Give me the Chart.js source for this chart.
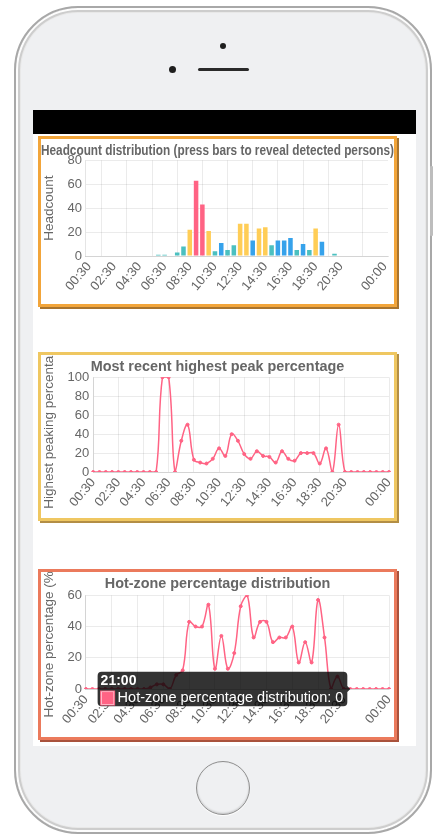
<!DOCTYPE html>
<html>
<head>
<meta charset="utf-8">
<title>Occupancy dashboard</title>
<script src="https://cdn.jsdelivr.net/npm/chart.js@4.4.1/dist/chart.umd.min.js"></script>
<style>
  body { margin: 0; width: 436px; height: 838px; background: #fff; position: relative; overflow: hidden; }
  .abs { position: absolute; }
  .phone { left: 14px; top: 6px; width: 418px; height: 828px; box-sizing: border-box; border-radius: 64px;
           background: #eff0f2; border: 2px solid #a8a8a8;
           box-shadow: inset 0 0 0 2px #fdfdfd, inset 0 0 0 4px #cdcdcd, inset 0 0 0 5px #e8e8e8; }
  .side-btn { left: 430px; top: 166px; width: 3px; height: 70px; background: #bdbdbd; border-radius: 1px; }
  .cam { left: 220px; top: 43px; width: 6px; height: 6px; border-radius: 50%; background: #1e1e1e; }
  .sensor { left: 169px; top: 66px; width: 7px; height: 7px; border-radius: 50%; background: #1e1e1e; }
  .speaker { left: 198px; top: 68px; width: 51px; height: 3px; border-radius: 2px; background: #2a2a2a; }
  .screen { left: 33px; top: 110px; width: 383px; height: 636px; background: #fff; }
  .topbar { left: 33px; top: 110px; width: 383px; height: 24px; background: #000; }
  .box { left: 38px; width: 359px; box-sizing: border-box; border: 3px solid; background: #fff; }
  .box .wrap { position: relative; width: 353px; }
  #box1 { top: 136px; height: 171px; border-color: #f2a53a; box-shadow: 2px 2px 0 #a8742e; }
  #box2 { top: 352px; height: 169px; border-color: #efc761; box-shadow: 2px 2px 0 #b38e45; }
  #box3 { top: 569px; height: 171px; border-color: #eb7a5c; box-shadow: 2px 2px 0 #a9523c; }
  #box1 .wrap, #box3 .wrap { height: 165px; }
  #box2 .wrap { height: 163px; }
  .home { left: 196px; top: 761px; width: 54px; height: 54px; border-radius: 50%; box-sizing: border-box;
          border: 1.5px solid #8e8e8e; box-shadow: inset 0 -1px 2px rgba(0,0,0,0.18), 0 1px 1px #fff; }
</style>
</head>
<body>
<div class="abs phone"></div>
<div class="abs side-btn"></div>
<div class="abs cam"></div>
<div class="abs sensor"></div>
<div class="abs speaker"></div>
<div class="abs screen"></div>
<div class="abs topbar"></div>
<div class="abs box" id="box1"><div class="wrap"><canvas id="headcountChart"></canvas></div></div>
<div class="abs box" id="box2"><div class="wrap"><canvas id="peakChart"></canvas></div></div>
<div class="abs box" id="box3"><div class="wrap"><canvas id="hotzoneChart"></canvas></div></div>
<div class="abs home"></div>

<script>
const timeLabels = ['00:30', '01:00', '01:30', '02:00', '02:30', '03:00', '03:30', '04:00',
    '04:30', '05:00', '05:30', '06:00', '06:30', '07:00', '07:30', '08:00',
    '08:30', '09:00', '09:30', '10:00', '10:30', '11:00', '11:30', '12:00',
    '12:30', '13:00', '13:30', '14:00', '14:30', '15:00', '15:30', '16:00',
    '16:30', '17:00', '17:30', '18:00', '18:30', '19:00', '19:30', '20:00',
    '20:30', '21:00', '21:30', '22:00', '22:30', '23:00', '23:30', '00:00'];

const headcount = [0, 0, 0, 0, 0, 0, 0, 0,
    0, 0, 0, 1, 1, 0, 3, 8,
    22, 63, 43, 21, 4, 11, 5, 9,
    27, 27, 13, 23, 24, 9, 13, 13,
    15, 5, 10, 5, 23, 12, 0, 2,
    0, 0, 0, 0, 0, 0, 0, 0];

const peakPercent = [0, 0, 0, 0, 0, 0, 0, 0,
    0, 0, 0, 100, 100, 0, 33, 50,
    13, 10, 9, 14, 25, 17, 40, 33,
    19, 14, 22, 17, 16, 10, 22, 14,
    12, 20, 20, 20, 9, 25, 0, 50,
    0, 0, 0, 0, 0, 0, 0, 0];

const hotzonePercent = [0, 0, 0, 0, 0, 0, 0, 0,
    0, 0, 1, 3, 3, 0, 9, 12,
    43, 40, 40, 54, 13, 34, 13, 23,
    53, 60, 33, 43, 43, 30, 33, 33,
    40, 17, 30, 17, 57, 33, 0, 8,
    0, 0, 0, 0, 0, 0, 0, 0];

const headcountTicks = [0, 20, 40, 60, 80];
const peakTicks = [0, 20, 40, 60, 80, 100];
const hotzoneTicks = [0, 20, 40, 60];

const pink = 'rgb(255, 99, 132)';
const gridColor = 'rgba(0, 0, 0, 0.08)';

Chart.defaults.font.family = "'Liberation Sans', Arial, Helvetica, sans-serif";
Chart.defaults.color = '#666';

function barColor(v) {
    if (v >= 40) return 'rgb(255, 99, 132)';
    if (v >= 20) return 'rgb(255, 205, 86)';
    if (v >= 10) return 'rgb(54, 162, 235)';
    return 'rgb(75, 192, 192)';
}

// every 4th label, the one before the end is dropped, the last is kept
function timeTick(value, index) {
    if (index === timeLabels.length - 1) return timeLabels[index];
    if (index % 4 === 0 && index + 4 < timeLabels.length) return timeLabels[index];
    return null;
}

// y axis title drawn by hand so it can run off the canvas like the original
const yTitle = {
    id: 'yTitle',
    afterDraw(chart, args, opts) {
        const s = chart.scales.y;
        const ctx = chart.ctx;
        ctx.save();
        ctx.translate(opts.x, (s.top + s.bottom) / 2);
        ctx.rotate(-Math.PI / 2);
        ctx.font = "13.5px 'Liberation Sans', Arial, sans-serif";
        ctx.fillStyle = '#666';
        ctx.textAlign = 'center';
        ctx.textBaseline = 'middle';
        ctx.fillText(opts.text, 0, 0);
        ctx.restore();
    }
};

// right gap kept on the x scale so the title still gets the full width
function xAxis(rightGap) {
    return {
        grid: { color: gridColor, drawTicks: false },
        ticks: { autoSkip: false, minRotation: 50, maxRotation: 50, padding: 3, font: { size: 13 }, callback: timeTick },
        afterFit: s => { s.paddingRight = rightGap; }
    };
}

function yAxis(tickValues) {
    return {
        min: tickValues[0],
        max: tickValues[tickValues.length - 1],
        grid: { color: gridColor, drawTicks: false },
        ticks: { autoSkip: false, stepSize: tickValues[1] - tickValues[0], padding: 4, font: { size: 13 } },
        afterFit: s => { s.width += 22.5; }
    };
}

function titleOpts(text, bottom) {
    return { display: true, text: text, color: '#666', font: { size: 14.4, weight: 'bold' }, padding: { top: 3, bottom: bottom } };
}

const headcountChart = new Chart(document.getElementById('headcountChart'), {
    type: 'bar',
    data: {
        labels: timeLabels,
        datasets: [{
            label: 'Headcount',
            data: headcount,
            backgroundColor: c => barColor(c.raw),
            borderWidth: 0
        }]
    },
    options: {
        responsive: true,
        maintainAspectRatio: false,
        animation: false,
        layout: { padding: { right: 0, bottom: 7 } },
        plugins: {
            legend: { display: false },
            title: titleOpts('Headcount distribution (press bars to reveal detected persons)', 1),
            yTitle: { text: 'Headcount', x: 8.5 }
        },
        scales: { x: xAxis(6), y: yAxis(headcountTicks) }
    },
    plugins: [yTitle]
});

function lineDataset(label, values) {
    return {
        label: label,
        data: values,
        borderColor: pink,
        backgroundColor: pink,
        borderWidth: 1.5,
        pointRadius: 1.5,
        pointBorderWidth: 1,
        pointBackgroundColor: pink,
        pointBorderColor: pink,
        tension: 0.4,
        fill: false
    };
}

const peakChart = new Chart(document.getElementById('peakChart'), {
    type: 'line',
    data: { labels: timeLabels, datasets: [lineDataset('Most recent highest peak percentage', peakPercent)] },
    options: {
        responsive: true,
        maintainAspectRatio: false,
        animation: false,
        layout: { padding: { right: 0, bottom: 5 } },
        plugins: {
            legend: { display: false },
            title: titleOpts('Most recent highest peak percentage', 2),
            yTitle: { text: 'Highest peaking percentage', x: 8.5 }
        },
        scales: { x: xAxis(5), y: yAxis(peakTicks) }
    },
    plugins: [yTitle]
});

const hotzoneChart = new Chart(document.getElementById('hotzoneChart'), {
    type: 'line',
    data: { labels: timeLabels, datasets: [lineDataset('Hot-zone percentage distribution', hotzonePercent)] },
    options: {
        responsive: true,
        maintainAspectRatio: false,
        animation: false,
        layout: { padding: { right: 0, bottom: 7 } },
        plugins: {
            legend: { display: false },
            title: titleOpts('Hot-zone percentage distribution', 3),
            yTitle: { text: 'Hot-zone percentage (%)', x: 8.5 },
            tooltip: {
                xAlign: 'right',
                yAlign: 'center',
                backgroundColor: 'rgba(0, 0, 0, 0.8)',
                titleFont: { size: 14, weight: 'bold', lineHeight: 1 },
                bodyFont: { size: 14.5, lineHeight: 1 },
                titleMarginBottom: 3,
                padding: { top: 2, bottom: 1, left: 3, right: 4 },
                cornerRadius: 4,
                caretSize: 3,
                caretPadding: 0,
                boxWidth: 14,
                boxHeight: 14,
                boxPadding: 1
            }
        },
        scales: { x: xAxis(5), y: yAxis(hotzoneTicks) }
    },
    plugins: [yTitle]
});

// the screenshot was taken with the 21:00 point hovered
hotzoneChart.tooltip.setActiveElements([{ datasetIndex: 0, index: timeLabels.indexOf('21:00') }], { x: 0, y: 0 });
hotzoneChart.update();
</script>
</body>
</html>
